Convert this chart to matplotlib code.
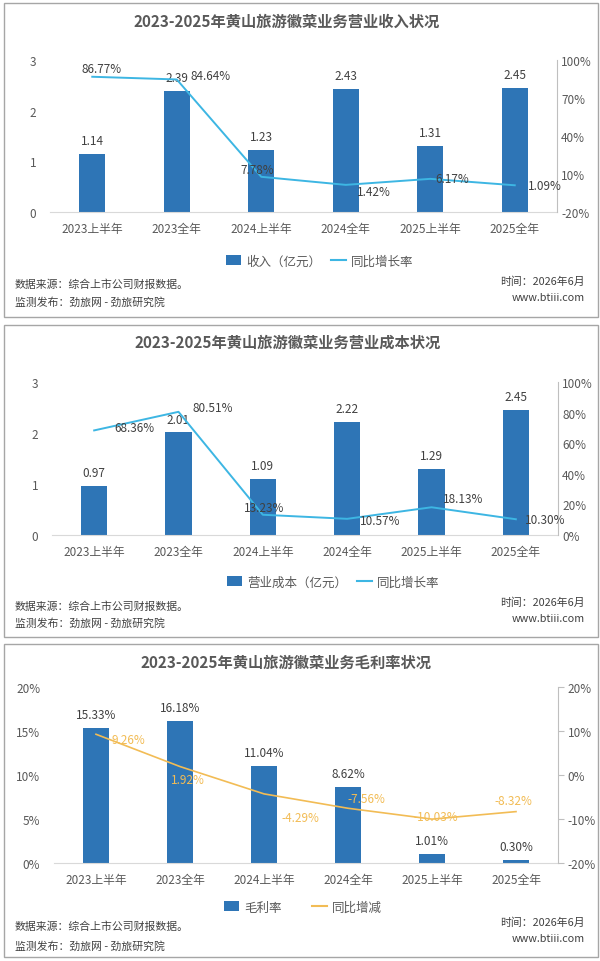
import matplotlib
matplotlib.use('Agg')
import matplotlib.pyplot as plt
from matplotlib.patches import Rectangle
from matplotlib.lines import Line2D
from matplotlib.patches import Patch

plt.rcParams['font.family'] = ['Noto Sans CJK SC', 'DejaVu Sans']

# data
categories = ['2023上半年', '2023全年', '2024上半年', '2024全年', '2025上半年', '2025全年']

revenue = [1.14, 2.39, 1.23, 2.43, 1.31, 2.45]
revenue_yoy = [86.77, 84.64, 7.78, 1.42, 6.17, 1.09]

cost = [0.97, 2.01, 1.09, 2.22, 1.29, 2.45]
cost_yoy = [68.36, 80.51, 13.23, 10.57, 18.13, 10.30]

margin = [15.33, 16.18, 11.04, 8.62, 1.01, 0.30]
margin_change = [9.26, 1.92, -4.29, -7.56, -10.03, -8.32]

titles = ['2023-2025年黄山旅游徽菜业务营业收入状况',
          '2023-2025年黄山旅游徽菜业务营业成本状况',
          '2023-2025年黄山旅游徽菜业务毛利率状况']

W, H = 600, 962
BLUE = '#2E75B6'
CYAN = '#3DB6E3'
ORANGE = '#F2BC55'
GRID = '#BFBFBF'
TXT = '#595959'
DARK = '#404040'

fig = plt.figure(figsize=(W / 100, H / 100), dpi=100)


def fx(x):
    return x / W


def fy(y):
    return 1 - y / H


def add_ax(left, top, right, bottom):
    return fig.add_axes([fx(left), fy(bottom), (right - left) / W, (bottom - top) / H])


def panel_frame(top, bottom):
    fig.patches.append(Rectangle((fx(4), fy(bottom)), (594) / W, (bottom - top) / H,
                                 transform=fig.transFigure, fill=False,
                                 edgecolor='#A6A6A6', linewidth=1.0))


def footer(y1, y2, yr1, yr2):
    fig.text(fx(15), fy(y1), '数据来源：综合上市公司财报数据。', fontsize=7.8, color=DARK, va='center')
    fig.text(fx(15), fy(y2), '监测发布：劲旅网 - 劲旅研究院', fontsize=7.8, color=DARK, va='center')
    fig.text(fx(585), fy(yr1), '时间：2026年6月', fontsize=7.8, color=DARK, va='center', ha='right')
    fig.text(fx(585), fy(yr2), 'www.btiii.com', fontsize=7.8, color=DARK, va='center', ha='right')


def style_axes(ax, ax2, right_ticks):
    for s in ['top', 'right', 'left']:
        ax.spines[s].set_visible(False)
    ax.spines['bottom'].set_color('#D9D9D9')
    for s in ['top', 'left', 'bottom']:
        ax2.spines[s].set_visible(False)
    ax2.spines['right'].set_color(GRID)
    ax.tick_params(axis='y', length=0, labelsize=8.5, labelcolor=TXT, pad=10)
    ax.tick_params(axis='x', length=0, labelsize=8.5, labelcolor=TXT, pad=7)
    ax2.tick_params(axis='y', length=4 if right_ticks else 0, color=GRID,
                    labelsize=8.5, labelcolor=TXT, pad=3)
    ax.set_xlim(-0.5, 5.5)
    ax.set_xticks(range(len(categories)))
    ax.set_xticklabels(categories)


def legend(y, bar_label, line_label, line_color, xc, gap):
    handles = [Patch(facecolor=BLUE, edgecolor='none'),
               Line2D([0], [0], color=line_color, lw=1.5)]
    fig.legend(handles, [bar_label, line_label], loc='center', bbox_to_anchor=(fx(xc), fy(y)),
               ncol=2, frameon=False, fontsize=9, labelcolor=TXT, handlelength=1.2,
               handleheight=0.8, columnspacing=gap, handletextpad=0.4)


x = list(range(len(categories)))

# ---------- panel 1 : revenue ----------
panel_frame(4, 318)
fig.text(fx(287), fy(22), titles[0], fontsize=11, fontweight='bold', color=TXT, ha='center', va='center')
ax = add_ax(50, 61, 557, 213)
ax2 = ax.twinx()
ax.bar(x, revenue, width=0.31, color=BLUE, zorder=2)
ax.set_ylim(0, 3)
ax.set_yticks([0, 1, 2, 3])
ax2.plot(x, revenue_yoy, color=CYAN, lw=1.4)
ax2.set_ylim(-20, 100)
ax2.set_yticks([-20, 10, 40, 70, 100])
ax2.set_yticklabels([f'{v}%' for v in [-20, 10, 40, 70, 100]])
style_axes(ax, ax2, False)
for i, v in enumerate(revenue):
    ax.annotate(f'{v:.2f}', (i, v), xytext=(0, 5), textcoords='offset points',
                ha='center', va='bottom', fontsize=8.5, color=DARK)
offs1 = [(7, 6), (24, 3), (-3, 5), (20, -5), (16, 0), (22, 0)]
for i, v in enumerate(revenue_yoy):
    ax2.annotate(f'{v:.2f}%', (i, v), xytext=offs1[i], textcoords='offset points',
                 ha='center', va='center', fontsize=8.5, color=DARK)
legend(262, '收入（亿元）', '同比增长率', CYAN, 320, 0.8)
footer(285, 302, 282, 298)

# ---------- panel 2 : cost ----------
panel_frame(326, 638)
fig.text(fx(288), fy(343), titles[1], fontsize=11, fontweight='bold', color=TXT, ha='center', va='center')
ax = add_ax(52, 383, 558, 536)
ax2 = ax.twinx()
ax.bar(x, cost, width=0.31, color=BLUE, zorder=2)
ax.set_ylim(0, 3)
ax.set_yticks([0, 1, 2, 3])
ax2.plot(x, cost_yoy, color=CYAN, lw=1.4)
ax2.set_ylim(0, 100)
ax2.set_yticks([0, 20, 40, 60, 80, 100])
ax2.set_yticklabels([f'{v}%' for v in [0, 20, 40, 60, 80, 100]])
style_axes(ax, ax2, False)
for i, v in enumerate(cost):
    ax.annotate(f'{v:.2f}', (i, v), xytext=(0, 5), textcoords='offset points',
                ha='center', va='bottom', fontsize=8.5, color=DARK)
offs2 = [(29, 2), (25, 3), (1, 5), (24, -1), (23, 6), (21, 0)]
for i, v in enumerate(cost_yoy):
    ax2.annotate(f'{v:.2f}%', (i, v), xytext=offs2[i], textcoords='offset points',
                 ha='center', va='center', fontsize=8.5, color=DARK)
legend(583, '营业成本（亿元）', '同比增长率', CYAN, 333, 0.8)
footer(607, 623, 603, 619)

# ---------- panel 3 : gross margin ----------
panel_frame(645, 958)
fig.text(fx(286), fy(663), titles[2], fontsize=11, fontweight='bold', color=TXT, ha='center', va='center')
ax = add_ax(54, 688, 558, 864)
ax2 = ax.twinx()
ax.bar(x, margin, width=0.31, color=BLUE, zorder=2)
ax.set_ylim(0, 20)
ax.set_yticks([0, 5, 10, 15, 20])
ax.set_yticklabels([f'{v}%' for v in [0, 5, 10, 15, 20]])
ax2.plot(x, margin_change, color=ORANGE, lw=1.2)
ax2.set_ylim(-20, 20)
ax2.set_yticks([-20, -10, 0, 10, 20])
ax2.set_yticklabels([f'{v}%' for v in [-20, -10, 0, 10, 20]])
style_axes(ax, ax2, True)
for i, v in enumerate(margin):
    ax.annotate(f'{v:.2f}%', (i, v), xytext=(0, 5), textcoords='offset points',
                ha='center', va='bottom', fontsize=8.5, color=DARK)
offs3 = [(23, -4), (6, -9), (26, -17), (13, 7), (3, 2), (-2, 8)]
for i, v in enumerate(margin_change):
    ax2.annotate(f'{v:.2f}%', (i, v), xytext=offs3[i], textcoords='offset points',
                 ha='center', va='center', fontsize=8.5, color=ORANGE)
legend(908, '毛利率', '同比增减', ORANGE, 303, 2.4)
footer(927, 946, 923, 939)

fig.savefig('out.png', dpi=100, facecolor='white')
